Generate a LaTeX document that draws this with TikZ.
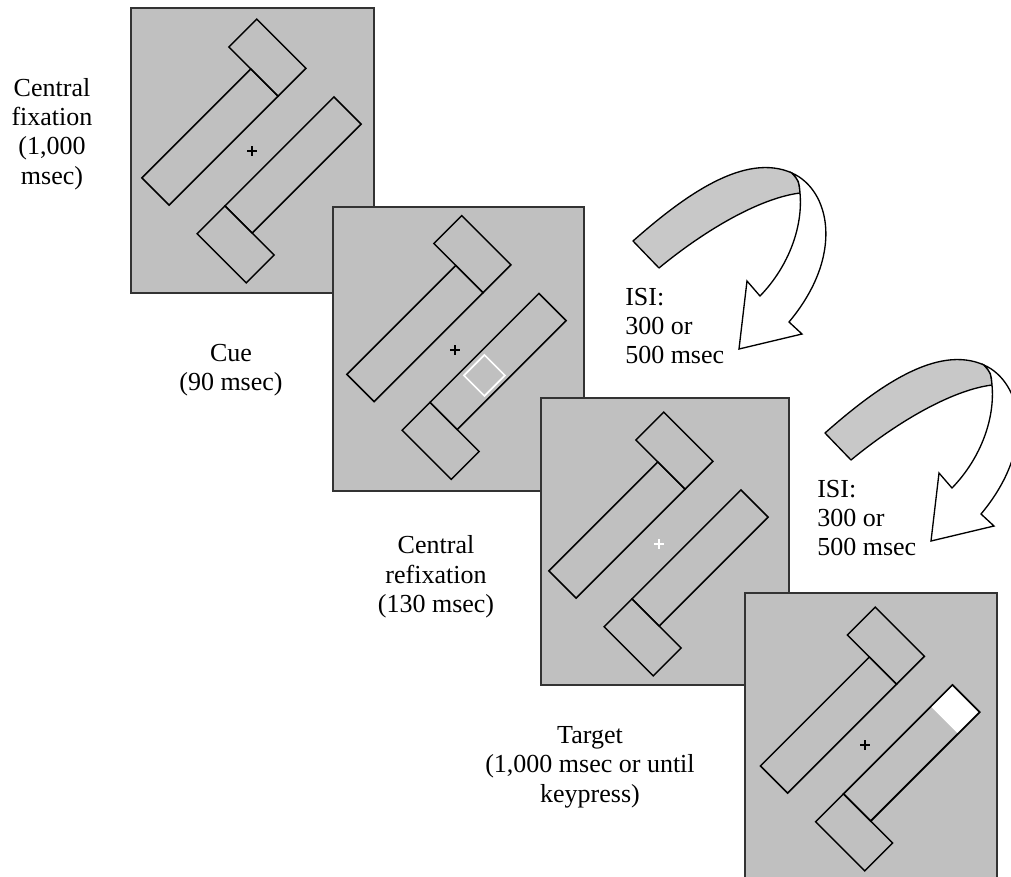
\documentclass[tikz,border=0pt]{standalone}
\usepackage{fontspec}
\setmainfont{Liberation Serif}
\usepackage{xcolor}
\usepackage{tikz}

\definecolor{panelgray}{RGB}{192,192,192}
\definecolor{bandgray}{RGB}{200,200,200}

\tikzset{
  panel/.style={draw=black!80, line width=1pt, fill=panelgray},
  bar/.style={draw=black, line width=1.1pt},
  band/.style={draw=black, line width=1pt, fill=bandgray, line join=round},
  shaft/.style={draw=black, line width=1pt, fill=white},
  txt/.style={font=\fontsize{19.5}{22}\selectfont, align=center, inner sep=0pt},
}

\begin{document}
\begin{tikzpicture}[x=0.75pt, y=-0.75pt]
    \useasboundingbox (0,0) rectangle (1011,876);
    \clip (0,0) rectangle (1011,876);

    % Displays with the two objects
    \foreach \px/\py/\qx/\qy/\cx/\cy/\fx/\fy/\fc in {
        131/8/374/293/251.5/151/252/151/black,
        333/207/584/491/456.5/347.5/455/350/black,
        541/398/789/685/658.5/544/659/544/white,
        745/593/997/880/870/739/865/745/black}{
        \draw[panel] (\px,\py) rectangle (\qx,\qy);
        \begin{scope}[shift={(\cx,\cy)}, rotate=45]
            \draw[bar] (-96.5,-58.5) rectangle (57.5,-20);
            \draw[bar] (57.5,-89.5) rectangle (97,-20);
            \draw[bar] (-57.5,20) rectangle (96.5,58.5);
            \draw[bar] (-97,20) rectangle (-57.5,89.5);
        \end{scope}
        \draw[\fc, line width=0.8pt] (\fx-5,\fy) -- (\fx+5,\fy) (\fx,\fy-5) -- (\fx,\fy+5);
    }

    % Cue
    \begin{scope}[shift={(456.5,347.5)}, rotate=45]
        \draw[white, line width=1.3pt] (-14.5,25) rectangle (14.5,54);
    \end{scope}

    % Target
    \begin{scope}[shift={(870,739)}, rotate=45]
        \fill[white] (66,20.5) rectangle (96.5,58.5);
        \draw[bar] (-57.5,20) rectangle (96.5,58.5);
    \end{scope}

    % ISI arrows
    \foreach \s [count=\i] in {0,192}{
        \begin{scope}[shift={(\s,\s)}]
            \draw[band] (633,241) .. controls (685,195) and (745,152) .. (792,173)
                .. controls (799,181) .. (800,193)
                .. controls (760,198) and (705,230) .. (659,268) -- cycle;
            \draw[shaft] (792,173) .. controls (830,190) and (845,255) .. (789,322)
                -- (802,334) -- (739,349) -- (747,281) -- (760,296)
                .. controls (790,265) and (803,225) .. (800,193)
                .. controls (799,181) .. (792,173) -- cycle;
            \node[txt, align=left, anchor=west] (isi\i) at (625,326) {ISI:\\300 or\\500 msec};
        \end{scope}
    }

    % Labels
    \node[txt] (fixtxt) at (52,134) {Central\\fixation\\(1,000\\msec)};
    \node[txt] (cuetxt) at (231,370) {Cue\\(90 msec)};
    \node[txt] (refixtxt) at (436,577) {Central\\refixation\\(130 msec)};
    \node[txt] (targettxt) at (590,767) {Target\\(1,000 msec or until\\keypress)};
\end{tikzpicture}
\end{document}
